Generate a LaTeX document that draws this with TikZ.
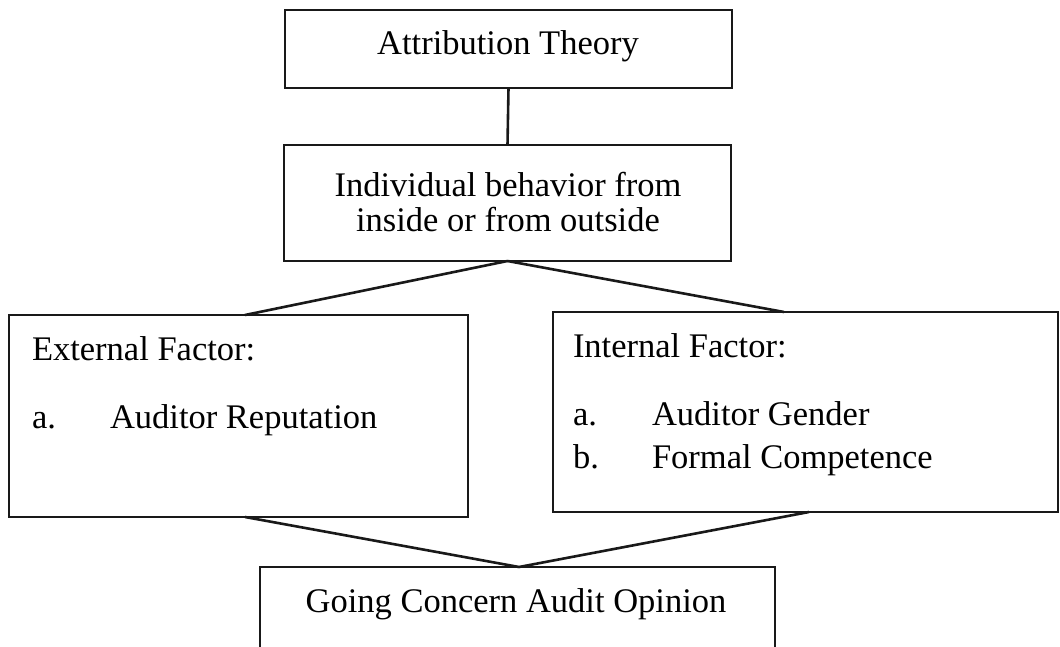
\documentclass[tikz,border=0pt]{standalone}
\usepackage{fontspec}
\setmainfont{Liberation Serif}
\usetikzlibrary{calc}
\begin{document}
\begin{tikzpicture}[x=1pt,y=-1pt,
  boxnode/.style={draw=black!90,line width=1.8pt,rectangle,inner sep=0pt,outer sep=0pt},
  txt/.style={inner sep=0pt,outer sep=0pt,font=\fontsize{34.5}{35.5}\selectfont},
  conn/.style={draw=black!90,line width=2.6pt}]
\useasboundingbox (0,0) rectangle (1060,647);
\clip (0,0) rectangle (1060,647);
% boxes
\node[boxnode,minimum width=447pt,minimum height=78pt] (attr) at (508.5,49) {};
\node[boxnode,minimum width=447pt,minimum height=116pt] (ind) at (507.5,203) {};
\node[boxnode,minimum width=459pt,minimum height=202pt] (ext) at (238.5,416) {};
\node[boxnode,minimum width=505pt,minimum height=200pt] (int) at (805.5,412) {};
\node[boxnode,minimum width=515pt,minimum height=160pt] (goc) at (517.5,647) {};
% connector points
\coordinate (apexT) at ($(ind.south)+(0,0)$);
\coordinate (extT) at ($(ext.north)+(6.5,0)$);
\coordinate (intT) at ($(int.north)+(-21.5,0)$);
\coordinate (extB) at ($(ext.south)+(6.5,0)$);
\coordinate (intB) at ($(int.south)+(3.5,0)$);
\coordinate (gocT) at ($(goc.north)+(1.5,0)$);
% connectors
\draw[conn] (attr.south) -- (ind.north);
\draw[conn] (apexT) -- (extT);
\draw[conn] (apexT) -- (intT);
\draw[conn] (extB) -- (gocT);
\draw[conn] (intB) -- (gocT);
% texts
\node[txt,anchor=base] (tattr) at (508,55) {Attribution Theory};
\node[txt,anchor=base] (tind1) at (508,197) {Individual behavior from};
\node[txt,anchor=base] (tind2) at (508,232) {inside or from outside};
\node[txt,anchor=base west] (text0) at (32,360) {External Factor:};
\node[txt,anchor=base west] (texta) at (32,428) {a.};
\node[txt,anchor=base west] (textb) at (110,428) {Auditor Reputation};
\node[txt,anchor=base west] (tint0) at (573,357) {Internal Factor:};
\node[txt,anchor=base west] (tinta) at (573,425) {a.};
\node[txt,anchor=base west] (tintb) at (652,425) {Auditor Gender};
\node[txt,anchor=base west] (tintc) at (573,468) {b.};
\node[txt,anchor=base west] (tintd) at (652,468) {Formal Competence};
\node[txt,anchor=base] (tgoc) at (516,612) {Going Concern Audit Opinion};
\end{tikzpicture}
\end{document}
